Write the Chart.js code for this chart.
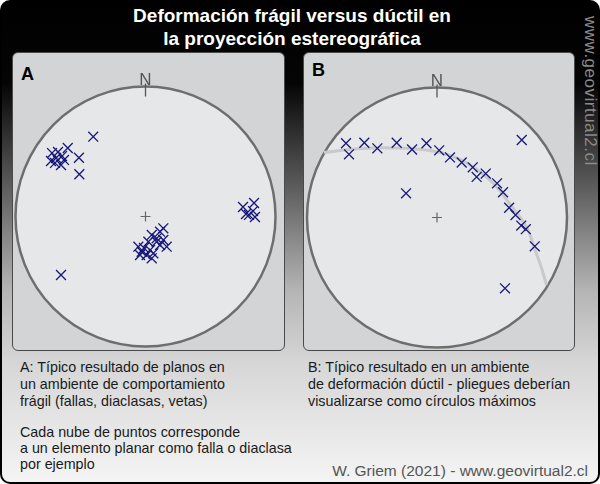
<!DOCTYPE html>
<html><head><meta charset="utf-8">
<script src="https://cdn.jsdelivr.net/npm/chart.js@4/dist/chart.umd.min.js"></script>
<style>
html,body{margin:0;padding:0;background:#fff;}
#frame{position:absolute;left:0;top:0;width:596px;height:480px;border:2px solid #000;border-radius:10px;overflow:hidden;
 background:linear-gradient(to bottom,#000 0%,#050505 17%,#5a5a5a 38%,#b4b4b4 60%,#d6d6d6 75%,#f4f4f4 100%);font-family:"Liberation Sans",Arial,sans-serif;}
.title{position:absolute;left:0;width:580px;text-align:center;color:#fff;font-weight:bold;font-size:19px;line-height:23px;top:2px;}
.panel{position:absolute;top:50px;height:297px;background:#d3d4d6;border:1px solid #4a4a4a;border-radius:6px;}
.lbl{position:absolute;font-weight:bold;font-size:18px;color:#000;}
canvas{position:absolute;}
.txt{position:absolute;font-size:14.3px;line-height:17px;color:#1a1a1a;white-space:nowrap;}
.wm{position:absolute;left:578px;top:14px;transform-origin:0 0;transform:translate(20px,0) rotate(90deg);color:#8a8a8a;font-size:17px;letter-spacing:0.5px;white-space:nowrap;}
</style></head>
<body>
<div id="frame">
 <div class="title">Deformación frágil versus dúctil en<br>la proyección estereográfica</div>
 <div class="panel" style="left:10px;width:271px;"></div>
 <div class="panel" style="left:301px;width:270px;"></div>
 <div class="lbl" style="left:19px;top:62px;">A</div>
 <div class="lbl" style="left:310px;top:58px;">B</div>
 <div class="wm">www.geovirtual2.cl</div>
 <div class="txt" style="left:18px;top:357px;">A: Típico resultado de planos en<br>un ambiente de comportamiento<br>frágil (fallas, diaclasas, vetas)</div>
 <div class="txt" style="left:18px;top:422px;line-height:16px;">Cada nube de puntos corresponde<br>a un elemento planar como falla o diaclasa<br>por ejemplo</div>
 <div class="txt" style="left:306px;top:357px;">B: Típico resultado en un ambiente<br>de deformación dúctil - pliegues deberían<br>visualizarse como círculos máximos</div>
 <div class="txt" style="right:10px;top:460px;color:#555;font-size:15.5px;">W. Griem (2021) - www.geovirtual2.cl</div>
</div>
<canvas id="cA" width="271" height="299" style="left:12px;top:52px;width:271px;height:299px;"></canvas>
<canvas id="cB" width="270" height="299" style="left:303px;top:52px;width:270px;height:299px;"></canvas>
<script>
// Panel A poles (x = east, y = north, in units of the net radius)
const polesA_x = [-0.402,-0.598,-0.512,-0.509,-0.719,-0.727,-0.688,-0.696,-0.642,-0.627,-0.650,-0.673,-0.650,
  0.137,0.112,0.048,0.086,0.137,0.163,0.022,0.112,-0.055,-0.029,0.009,0.048,-0.042,0.060,0.086,-0.012,0.035,
  0.835,0.750,0.827,0.773,0.842,0.796];
const polesA_y = [0.614,0.527,0.452,0.325,0.488,0.427,0.450,0.412,0.465,0.435,0.396,0.496,-0.450,
  -0.091,-0.117,-0.142,-0.168,-0.181,-0.232,-0.194,-0.219,-0.232,-0.271,-0.296,-0.322,-0.296,-0.283,-0.194,-0.242,-0.258,
  0.104,0.073,0.042,0.019,-0.004,0.012];
// Panel B poles
const polesB_x = [-0.700,-0.677,-0.559,-0.459,-0.310,-0.192,-0.081,0.017,0.100,0.190,0.275,0.305,0.375,0.462,0.508,0.555,0.604,0.648,0.683,0.752,
  0.652,-0.238,0.523];
const polesB_y = [0.571,0.486,0.575,0.532,0.575,0.523,0.571,0.517,0.462,0.423,0.386,0.312,0.338,0.263,0.194,0.075,0.019,-0.062,-0.090,-0.222,
  0.596,0.186,-0.545];
// Great circle in panel B
const gcB_x = [-0.869,-0.669,-0.438,-0.208,0.023,0.215,0.431,0.577,0.700,0.754,0.804,0.842];
const gcB_y = [0.500,0.523,0.536,0.531,0.500,0.427,0.265,0.081,-0.096,-0.250,-0.388,-0.519];

const toPts = (xs, ys) => xs.map((x, i) => ({x, y: ys[i]}));

const netPlugin = {
  id: 'net',
  beforeDatasetsDraw(chart) {
    const {ctx, scales:{x, y}} = chart;
    const cx = x.getPixelForValue(0), cy = y.getPixelForValue(0);
    const r = x.getPixelForValue(1) - cx;
    ctx.save();
    ctx.beginPath(); ctx.arc(cx, cy, r, 0, Math.PI*2);
    ctx.fillStyle = '#e6e7e9'; ctx.fill();
    ctx.lineWidth = 2.5; ctx.strokeStyle = '#6e6e6e'; ctx.stroke();
    // north tick
    ctx.beginPath(); ctx.lineWidth = 1.3; ctx.strokeStyle = '#555';
    ctx.moveTo(cx, cy - r - 3); ctx.lineTo(cx, cy - r + 10); ctx.stroke();
    // centre cross
    ctx.beginPath(); ctx.lineWidth = 1.2; ctx.strokeStyle = '#666';
    ctx.moveTo(cx - 5, cy); ctx.lineTo(cx + 5, cy);
    ctx.moveTo(cx, cy - 5); ctx.lineTo(cx, cy + 5); ctx.stroke();
    // N
    ctx.fillStyle = '#555'; ctx.font = '17px "Liberation Sans Narrow", "Liberation Sans", Arial';
    ctx.textAlign = 'center'; ctx.textBaseline = 'alphabetic';
    ctx.fillText('N', cx, cy - r - 2);
    ctx.restore();
  }
};

function makeChart(id, datasets, pad) {
  new Chart(document.getElementById(id), {
    type: 'scatter',
    data: {datasets},
    options: {
      responsive: false, animation: false,
      layout: {padding: pad, autoPadding: false},
      plugins: {legend: {display: false}, tooltip: {enabled: false}},
      scales: {
        x: {type: 'linear', min: -1, max: 1, display: false},
        y: {type: 'linear', min: -1, max: 1, display: false}
      }
    },
    plugins: [netPlugin]
  });
}

const poleStyle = {pointStyle: 'crossRot', pointRadius: 7, pointBorderColor: '#17177a', pointBorderWidth: 1.3,
  borderColor: '#17177a', showLine: false, clip: false, order: 1};

makeChart('cA', [Object.assign({data: toPts(polesA_x, polesA_y)}, poleStyle)],
  {left: 3.5, right: 7.5, top: 34.5, bottom: 4.5});

makeChart('cB', [
  Object.assign({data: toPts(polesB_x, polesB_y)}, poleStyle),
  {type: 'line', data: toPts(gcB_x, gcB_y), borderColor: '#c9c9c9', borderWidth: 3, pointRadius: 0,
   cubicInterpolationMode: 'monotone', showLine: true, fill: false, clip: false, order: 2}
], {left: 4, right: 6, top: 35.5, bottom: 3.5});
</script>
</body></html>
